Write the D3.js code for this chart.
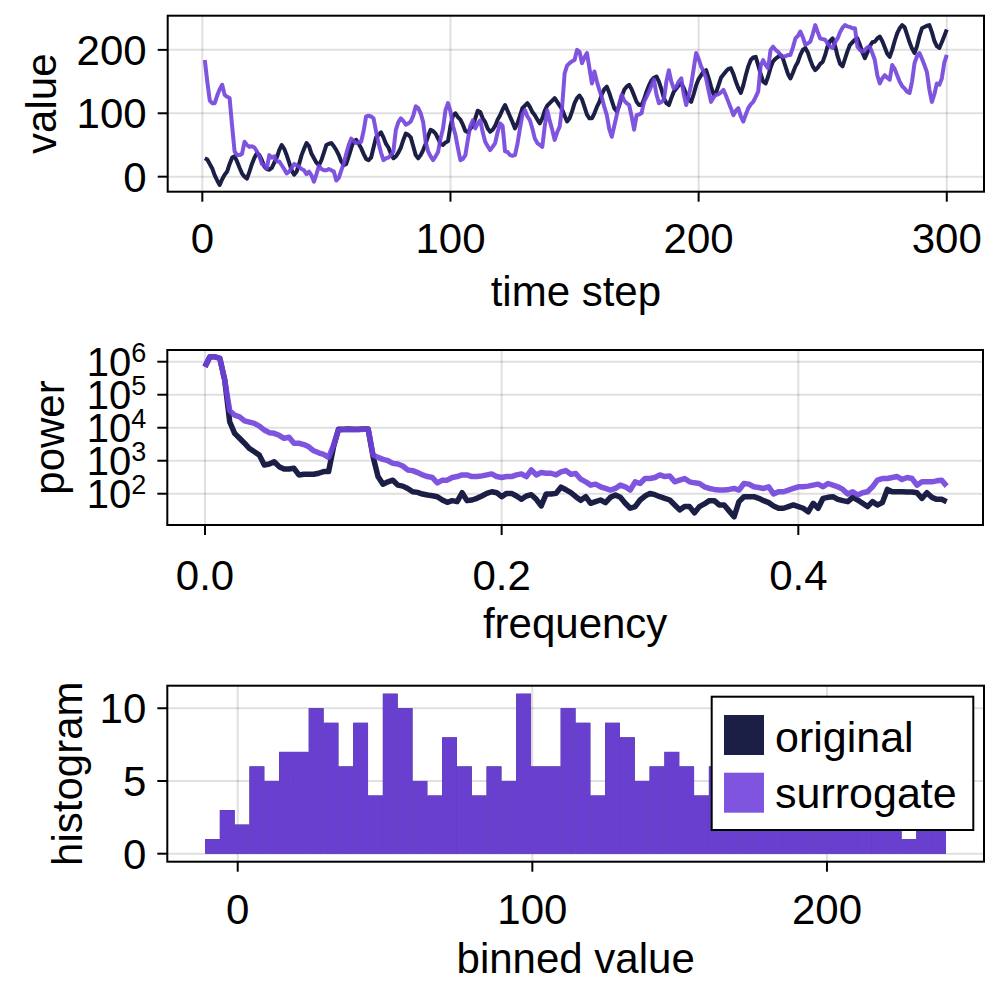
<!DOCTYPE html>
<html><head><meta charset="utf-8">
<script src="https://cdn.jsdelivr.net/npm/d3@7"></script>
<style>
body{margin:0;background:#fff}
svg{display:block}
text{font-family:"Liberation Sans", Arial, Helvetica, sans-serif; fill:#000}
</style>
</head><body>
<svg id="chart" width="1000" height="1000"></svg>
<script>
// ---------------- DATA ----------------
const seriesNames = ["original", "surrogate"];
const seriesColors = ["#1b1e45", "#7143dd"];
const surrogateOpacity = 0.9;

const timeOriginal = [
 29, 27, 20, 13, 2, -6, -13, -4, 3, 8,
 20, 30, 32, 24, 14, 5, 0, -3, 8, 20,
 30, 37, 34, 26, 16, 12, 11, 14, 22, 30,
 42, 50, 44, 34, 22, 10, 3, 8, 20, 34,
 44, 53, 48, 36, 29, 22, 18, 26, 38, 50,
 52, 53, 48, 42, 34, 24, 18, 20, 32, 45,
 56, 58, 52, 45, 36, 28, 26, 30, 46, 62,
 66, 70, 62, 52, 46, 36, 29, 32, 38, 46,
 58, 68, 66, 62, 48, 34, 29, 34, 42, 52,
 64, 74, 72, 68, 60, 52, 50, 54, 56, 80,
 96, 100, 94, 90, 82, 72, 70, 76, 80, 92,
 104, 102, 92, 86, 76, 71, 74, 80, 90, 97,
 106, 113, 104, 95, 86, 76, 84, 96, 108, 112,
 116, 110, 102, 97, 90, 84, 92, 104, 112, 116,
 120, 124, 118, 112, 106, 96, 87, 92, 103, 116,
 124, 128, 122, 110, 98, 92, 92, 100, 110, 118,
 130, 138, 142, 132, 120, 108, 103, 112, 126, 137,
 142, 145, 138, 128, 118, 113, 113, 122, 134, 144,
 152, 156, 158, 150, 138, 124, 116, 113, 124, 134,
 139, 144, 147, 140, 130, 122, 118, 130, 144, 154,
 160, 166, 168, 156, 142, 130, 132, 144, 156, 161,
 166, 170, 171, 162, 150, 140, 132, 144, 160, 174,
 184, 188, 189, 176, 162, 150, 147, 158, 172, 182,
 186, 189, 192, 186, 174, 162, 155, 164, 174, 181,
 192, 200, 203, 196, 184, 174, 168, 172, 178, 181,
 192, 206, 214, 218, 206, 190, 178, 174, 186, 198,
 208, 212, 216, 218, 208, 196, 187, 196, 206, 212,
 213, 218, 221, 214, 204, 194, 189, 200, 214, 226,
 234, 239, 236, 224, 212, 202, 195, 206, 222, 234,
 236, 238, 239, 228, 214, 206, 203, 212, 222, 232
];

const timeSurrogate = [
 184, 150, 120, 116, 116, 128, 138, 145, 129, 126,
 124, 80, 40, 34, 34, 36, 55, 50, 47, 48,
 46, 40, 32, 20, 18, 13, 34, 30, 32, 24,
 24, 18, 12, 5, 8, 14, 20, 18, 16, 12,
 10, 4, 8, 2, -8, 4, 17, 12, 10, 10,
 12, 10, 8, -6, -2, 10, 21, 36, 50, 60,
 56, 53, 54, 55, 72, 95, 96, 95, 92, 72,
 53, 38, 26, 29, 30, 34, 40, 74, 86, 92,
 88, 82, 84, 87, 96, 111, 108, 100, 86, 55,
 40, 32, 26, 32, 39, 60, 76, 105, 116, 103,
 80, 66, 45, 26, 28, 34, 58, 80, 89, 76,
 84, 89, 70, 55, 48, 42, 47, 53, 70, 84,
 80, 40, 39, 34, 33, 34, 52, 76, 98, 105,
 95, 89, 76, 60, 53, 50, 47, 80, 105, 88,
 74, 58, 70, 79, 110, 163, 175, 179, 182, 184,
 200, 197, 179, 188, 195, 171, 147, 166, 150, 137,
 125, 110, 97, 75, 63, 80, 97, 115, 129, 120,
 116, 113, 95, 74, 97, 98, 100, 118, 126, 134,
 144, 153, 130, 116, 118, 121, 150, 168, 150, 139,
 142, 150, 155, 130, 113, 128, 145, 170, 195, 186,
 174, 166, 155, 136, 118, 125, 129, 130, 133, 137,
 128, 118, 108, 97, 104, 108, 95, 87, 98, 108,
 114, 118, 126, 134, 175, 184, 176, 171, 200, 205,
 200, 197, 192, 189, 190, 192, 192, 204, 218, 222,
 229, 220, 208, 210, 213, 225, 239, 228, 218, 217,
 216, 210, 205, 203, 212, 218, 228, 235, 239, 237,
 236, 234, 234, 205, 200, 197, 200, 204, 205, 195,
 184, 160, 147, 155, 160, 156, 153, 176, 170, 160,
 150, 143, 139, 134, 132, 150, 179, 190, 195, 186,
 176, 165, 137, 118, 130, 147, 145, 155, 180, 192
];

// power spectrum, log10 of power, frequencies k/300 for k = 0..150
const powerOriginalLog10 = [
 5.85, 6.15, 6.15, 6.1, 5.44, 4.18, 3.83, 3.68, 3.53, 3.37,
 3.27, 3.17, 2.87, 2.9, 2.97, 2.82, 2.75, 2.75, 2.77, 2.57,
 2.59, 2.59, 2.59, 2.62, 2.67, 2.67, 3.42, 3.95, 3.95, 3.96,
 3.95, 3.95, 3.96, 3.96, 3.12, 2.52, 2.29, 2.36, 2.41, 2.26,
 2.23, 2.16, 2.06, 2.04, 1.99, 1.96, 1.94, 1.91, 1.81, 1.74,
 1.79, 1.76, 2.03, 1.79, 1.81, 1.86, 1.93, 2.01, 2.06, 2.03,
 1.91, 2.01, 2.01, 1.93, 1.83, 1.93, 1.97, 1.83, 1.63, 1.99,
 1.99, 2.01, 2.2, 2.12, 2.03, 1.91, 1.8, 1.91, 1.71, 1.76,
 1.81, 1.73, 1.89, 1.96, 1.89, 1.71, 1.56, 1.61, 1.81, 1.93,
 2.01, 1.97, 1.91, 1.86, 1.81, 1.66, 1.51, 1.61, 1.61, 1.42,
 1.61, 1.69, 1.79, 1.79, 1.66, 1.66, 1.48, 1.3, 1.76, 1.91,
 1.91, 1.91, 1.86, 1.79, 1.73, 1.63, 1.56, 1.56, 1.61, 1.66,
 1.61, 1.56, 1.45, 1.71, 1.56, 1.86, 1.89, 1.91, 1.83, 1.79,
 1.76, 1.89, 1.81, 1.71, 1.61, 1.76, 1.66, 1.73, 2.13, 2.06,
 2.06, 2.06, 2.05, 2.05, 2.03, 1.86, 2.03, 1.89, 1.83, 1.83,
 1.76
];

const powerSurrogateLog10 = [
 5.85, 6.15, 6.15, 6.1, 5.44, 4.52, 4.38, 4.33, 4.21, 4.17,
 4.13, 4.05, 3.93, 3.85, 3.83, 3.77, 3.68, 3.71, 3.53, 3.53,
 3.49, 3.42, 3.3, 3.24, 3.19, 3.1, 3.47, 3.93, 3.94, 3.94,
 3.94, 3.94, 3.95, 3.95, 3.17, 3.1, 3.04, 3.0, 2.92, 2.9,
 2.84, 2.72, 2.7, 2.64, 2.57, 2.52, 2.49, 2.33, 2.41, 2.41,
 2.49, 2.52, 2.57, 2.57, 2.52, 2.52, 2.54, 2.57, 2.6, 2.52,
 2.49, 2.52, 2.52, 2.57, 2.6, 2.52, 2.72, 2.57, 2.64, 2.62,
 2.62, 2.57, 2.66, 2.7, 2.59, 2.61, 2.44, 2.36, 2.26, 2.29,
 2.21, 2.16, 2.11, 2.16, 2.26, 2.21, 2.11, 2.36, 2.31, 2.46,
 2.46, 2.49, 2.57, 2.52, 2.54, 2.36, 2.41, 2.46, 2.36, 2.33,
 2.31, 2.21, 2.16, 2.13, 2.11, 2.11, 2.13, 2.16, 2.11, 2.31,
 2.29, 2.21, 2.19, 2.16, 2.21, 1.99, 2.06, 2.06, 2.11, 2.16,
 2.21, 2.21, 2.23, 2.26, 2.29, 2.21, 2.31, 2.26, 2.21, 2.13,
 1.99, 2.06, 1.96, 2.03, 2.06, 2.21, 2.41, 2.46, 2.46, 2.49,
 2.52, 2.43, 2.49, 2.46, 2.26, 2.36, 2.36, 2.36, 2.39, 2.41,
 2.23
];

// histogram: 50 equal bins over the value range
const histRange = [-11.1, 240.4];
const histCountsOriginal = [
 1, 3, 2, 6, 5, 7, 7, 10, 9, 6,
 9, 4, 11, 10, 5, 4, 8, 6, 4, 6,
 5, 11, 6, 6, 10, 9, 4, 9, 8, 5,
 6, 7, 6, 4, 6, 5, 7, 6, 5, 6,
 4, 5, 6, 5, 7, 5, 6, 1, 3, 4
];
const histCountsSurrogate = histCountsOriginal.slice(); // amplitude-adjusted surrogate keeps the value distribution

const ticks1x = [0, 100, 200, 300];
const ticks1y = [0, 100, 200];
const ticks2x = [0.0, 0.2, 0.4];
const ticks2yExp = [2, 3, 4, 5, 6];
const ticks3x = [0, 100, 200];
const ticks3y = [0, 5, 10];

const labels = {
  x1: "time step", y1: "value",
  x2: "frequency", y2: "power",
  x3: "binned value", y3: "histogram"
};

// ---------------- DRAW ----------------
const svg = d3.select("#chart");
const FS = 42;
const gridColor = "rgba(0,0,0,0.12)";

const P1 = {l: 167.7, r: 984, t: 15.7, b: 191.7};
const P2 = {l: 167.3, r: 983, t: 350, b: 525};
const P3 = {l: 167.3, r: 984, t: 685.7, b: 861.7};

const x1 = d3.scaleLinear().domain([-13.95, 315]).range([P1.l, P1.r]);
const y1 = d3.scaleLinear().domain([-23.7, 253.9]).range([P1.b, P1.t]);
const x2 = d3.scaleLinear().domain([-0.0254, 0.5245]).range([P2.l, P2.r]);
const y2 = d3.scaleLog().domain([Math.pow(10, 1.052), Math.pow(10, 6.355)]).range([P2.b, P2.t]);
const x3 = d3.scaleLinear().domain([-23.9, 253.3]).range([P3.l, P3.r]);
const y3 = d3.scaleLinear().domain([-0.55, 11.55]).range([P3.b, P3.t]);

function grid(P, xs, xt, ys, yt) {
  const g = svg.append("g");
  g.selectAll(".vx").data(xt).join("line")
    .attr("x1", d => xs(d)).attr("x2", d => xs(d))
    .attr("y1", P.t).attr("y2", P.b)
    .attr("stroke", gridColor).attr("stroke-width", 2);
  g.selectAll(".hy").data(yt).join("line")
    .attr("y1", d => ys(d)).attr("y2", d => ys(d))
    .attr("x1", P.l).attr("x2", P.r)
    .attr("stroke", gridColor).attr("stroke-width", 2);
}

function frame(P, xs, xt, xfmt, ys, yt, yfmt, xlab, ylab, xlabY, ylabX, xTickY) {
  const g = svg.append("g");
  g.append("rect").attr("x", P.l).attr("y", P.t)
    .attr("width", P.r - P.l).attr("height", P.b - P.t)
    .attr("fill", "none").attr("stroke", "#000").attr("stroke-width", 2);
  g.selectAll(".xt").data(xt).join("line")
    .attr("x1", d => xs(d)).attr("x2", d => xs(d))
    .attr("y1", P.b).attr("y2", P.b + 10)
    .attr("stroke", "#000").attr("stroke-width", 2);
  g.selectAll(".xl").data(xt).join("text")
    .attr("x", d => xs(d)).attr("y", xTickY)
    .attr("text-anchor", "middle").attr("font-size", FS)
    .text(xfmt);
  g.selectAll(".yt").data(yt).join("line")
    .attr("y1", d => ys(d)).attr("y2", d => ys(d))
    .attr("x1", P.l - 10).attr("x2", P.l)
    .attr("stroke", "#000").attr("stroke-width", 2);
  if (yfmt) {
    g.selectAll(".yl").data(yt).join("text")
      .attr("x", P.l - 21).attr("y", d => ys(d) + 15)
      .attr("text-anchor", "end").attr("font-size", FS)
      .text(yfmt);
  }
  g.append("text").attr("x", (P.l + P.r) / 2).attr("y", xlabY)
    .attr("text-anchor", "middle").attr("font-size", FS).text(xlab);
  g.append("text")
    .attr("transform", `translate(${ylabX},${(P.t + P.b) / 2}) rotate(-90)`)
    .attr("text-anchor", "middle").attr("font-size", FS).text(ylab);
  return g;
}

// ---- panel 1: time series
grid(P1, x1, ticks1x, y1, ticks1y);
const steps = timeOriginal.map((_, i) => i + 1);
const line1 = d3.line().x((d, i) => x1(steps[i])).y(d => y1(d));
svg.append("path").datum(timeOriginal).attr("d", line1)
  .attr("fill", "none").attr("stroke", seriesColors[0]).attr("stroke-width", 4)
  .attr("stroke-linejoin", "round");
svg.append("path").datum(timeSurrogate).attr("d", line1)
  .attr("fill", "none").attr("stroke", seriesColors[1]).attr("stroke-opacity", surrogateOpacity)
  .attr("stroke-width", 4).attr("stroke-linejoin", "round");
frame(P1, x1, ticks1x, d => d3.format("d")(d), y1, ticks1y, d => d3.format("d")(d),
  labels.x1, labels.y1, 306, 56, 253);

// ---- panel 2: power spectrum
grid(P2, x2, ticks2x, y2, ticks2yExp.map(e => Math.pow(10, e)));
const freqs = powerOriginalLog10.map((_, k) => k / 300);
const line2 = d3.line().x((d, i) => x2(freqs[i])).y(d => y2(Math.pow(10, d)));
svg.append("path").datum(powerOriginalLog10).attr("d", line2)
  .attr("fill", "none").attr("stroke", seriesColors[0]).attr("stroke-width", 5.5)
  .attr("stroke-linejoin", "round");
svg.append("path").datum(powerSurrogateLog10).attr("d", line2)
  .attr("fill", "none").attr("stroke", seriesColors[1]).attr("stroke-opacity", surrogateOpacity)
  .attr("stroke-width", 5.5).attr("stroke-linejoin", "round");
const g2 = frame(P2, x2, ticks2x, d => d3.format(".1f")(d), y2,
  ticks2yExp.map(e => Math.pow(10, e)), null,
  labels.x2, labels.y2, 638, 64, 590);
const yl2 = g2.selectAll(".yl2").data(ticks2yExp).join("text")
  .attr("x", P2.l - 21).attr("y", d => y2(Math.pow(10, d)) + 14)
  .attr("text-anchor", "end").attr("font-size", 40);
yl2.append("tspan").text("10");
yl2.append("tspan").attr("dy", -14).attr("font-size", 27).text(d => d);

// ---- panel 3: histogram
grid(P3, x3, ticks3x, y3, ticks3y);
const nb = histCountsOriginal.length;
const bw = (histRange[1] - histRange[0]) / nb;
const binStart = i => histRange[0] + i * bw;
function bars(counts, color, op) {
  svg.append("g").selectAll("rect").data(counts).join("rect")
    .attr("x", (d, i) => x3(binStart(i)))
    .attr("width", (d, i) => x3(binStart(i) + bw) - x3(binStart(i)))
    .attr("y", d => y3(d))
    .attr("height", d => y3(0) - y3(d))
    .attr("fill", color).attr("fill-opacity", op);
}
bars(histCountsOriginal, seriesColors[0], 1);
bars(histCountsSurrogate, seriesColors[1], surrogateOpacity);
frame(P3, x3, ticks3x, d => d3.format("d")(d), y3, ticks3y, d => d3.format("d")(d),
  labels.x3, labels.y3, 973, 82, 924);

// legend
const lg = svg.append("g");
lg.append("rect").attr("x", 711.7).attr("y", 696.7).attr("width", 261.6).attr("height", 133.3)
  .attr("fill", "#fff").attr("stroke", "#000").attr("stroke-width", 2);
seriesNames.forEach((name, i) => {
  lg.append("rect").attr("x", 724).attr("y", 715 + i * 57.7).attr("width", 40).attr("height", 40)
    .attr("fill", seriesColors[i]).attr("fill-opacity", i === 1 ? surrogateOpacity : 1);
  lg.append("text").attr("x", 775).attr("y", 751.7 + i * 56.6).attr("font-size", 43).text(name);
});
</script>
</body></html>
